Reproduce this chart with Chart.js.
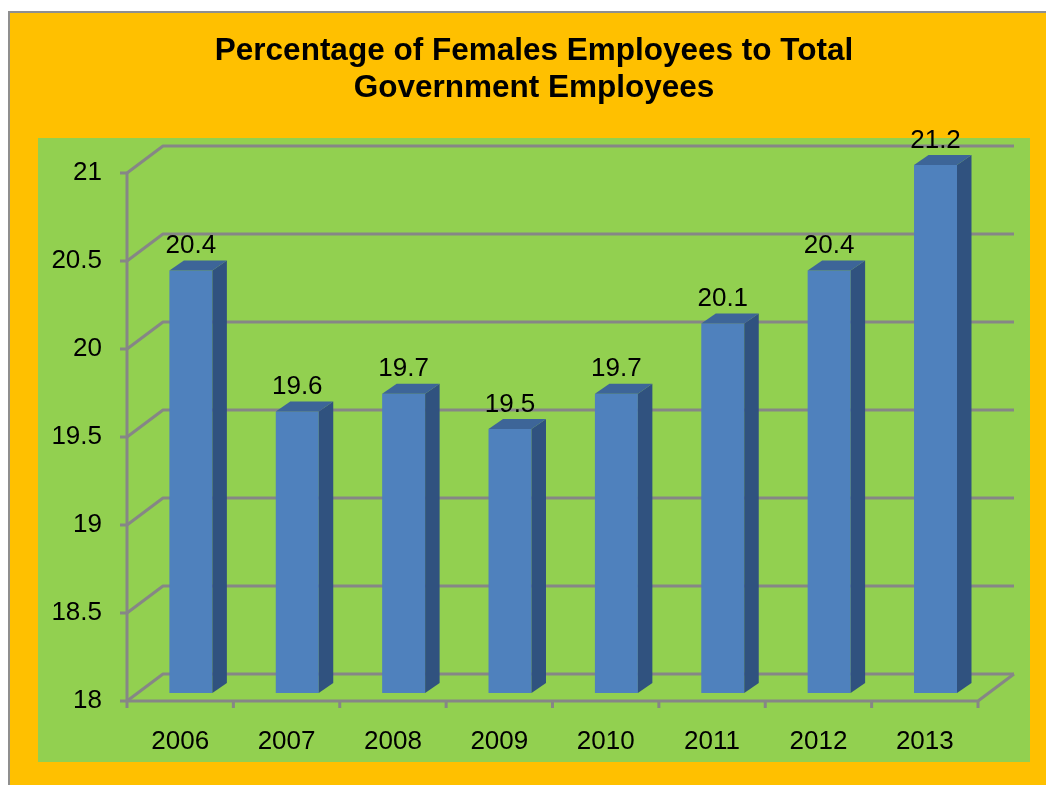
<!DOCTYPE html>
<html>
<head>
<meta charset="utf-8">
<script src="https://cdn.jsdelivr.net/npm/chart.js@4.4.1/dist/chart.umd.min.js"></script>
<style>
  html, body { margin: 0; padding: 0; background: #fff; }
  #wrap { width: 1046px; height: 785px; }
</style>
</head>
<body>
<div id="wrap"><canvas id="chart" width="1046" height="785"></canvas></div>
<script>
// Share of women among all government employees, by year (%)
const years = ['2006', '2007', '2008', '2009', '2010', '2011', '2012', '2013'];
const femaleShare = [20.4, 19.6, 19.7, 19.5, 19.7, 20.1, 20.4, 21.2];
const axisMin = 18;
const axisMax = 21;
const axisStep = 0.5;
const titleLines = ['Percentage of Females Employees to Total', 'Government Employees'];

// Pseudo-3D geometry: depth of the walls, where the bar fronts sit, and bar thickness
const WALL = { dx: 36, dy: -27 };
const BAR_FRONT = { dx: 10.7, dy: -8 };
const BAR_DEPTH = { dx: 14.5, dy: -10 };

const COLORS = {
  frame: '#FFC000',
  border: '#8F8F8F',
  plot: '#92D050',
  grid: '#868686',
  barFront: '#4F81BD',
  barSide: '#30527F',
  barTop: '#3D6598'
};

Chart.defaults.font.family = "'Liberation Sans', Arial, sans-serif";
Chart.defaults.color = '#000';

function fillPoly(ctx, pts, color) {
  ctx.beginPath();
  ctx.moveTo(pts[0][0], pts[0][1]);
  for (let i = 1; i < pts.length; i++) ctx.lineTo(pts[i][0], pts[i][1]);
  ctx.closePath();
  ctx.fillStyle = color;
  ctx.fill();
}

// Orange frame and green plot panel; title centred over the plot panel
const backdrop = {
  id: 'backdrop',
  afterLayout(chart) {
    const t = chart.titleBlock;
    if (t) {
      t.left = chart.chartArea.left - 37;
      t.width = t.right - t.left;
    }
  },
  beforeDraw(chart) {
    const { ctx, width, height, chartArea: a } = chart;
    ctx.save();
    ctx.fillStyle = '#fff';
    ctx.fillRect(0, 0, width, height);
    ctx.fillStyle = COLORS.border;
    ctx.fillRect(8, 11, width - 8, height - 11);
    ctx.fillStyle = COLORS.frame;
    ctx.fillRect(10, 13, width - 10, height - 13);
    ctx.fillStyle = COLORS.plot;
    ctx.fillRect(a.left - 89, a.top - 35, (a.right - a.left) + 141, (a.bottom - a.top) + 96);
    ctx.restore();
  }
};

// Side wall, back wall and floor lines, axis lines and tick marks
const walls = {
  id: 'walls',
  beforeDatasetsDraw(chart) {
    const { ctx, chartArea: a, scales: { x, y } } = chart;
    ctx.save();
    ctx.strokeStyle = COLORS.grid;
    ctx.lineWidth = 3;
    ctx.lineJoin = 'round';
    ctx.lineCap = 'butt';
    for (let v = axisMin; v <= axisMax + 1e-9; v += axisStep) {
      const py = y.getPixelForValue(v);
      ctx.beginPath();
      ctx.moveTo(a.left, py);
      ctx.lineTo(a.left + WALL.dx, py + WALL.dy);
      ctx.lineTo(a.right + WALL.dx, py + WALL.dy);
      ctx.stroke();
      ctx.beginPath();
      ctx.moveTo(a.left - 7, py);
      ctx.lineTo(a.left, py);
      ctx.stroke();
    }
    ctx.beginPath();
    ctx.moveTo(a.left, a.top);
    ctx.lineTo(a.left, a.bottom);
    ctx.lineTo(a.right, a.bottom);
    ctx.lineTo(a.right + WALL.dx, a.bottom + WALL.dy);
    ctx.stroke();
    for (let i = 0; i <= years.length; i++) {
      const px = x.getPixelForValue(i - 0.5);
      ctx.beginPath();
      ctx.moveTo(px, a.bottom);
      ctx.lineTo(px, a.bottom + 7);
      ctx.stroke();
    }
    ctx.restore();
  }
};

// Shift the bar fronts into depth, then add the side and top faces
const bars3d = {
  id: 'bars3d',
  beforeDatasetDraw(chart) {
    chart.ctx.save();
    chart.ctx.translate(BAR_FRONT.dx, BAR_FRONT.dy);
  },
  afterDatasetDraw(chart, args) {
    const { ctx, chartArea: a } = chart;
    ctx.restore();
    ctx.save();
    args.meta.data.forEach((bar) => {
      const { x, y, base, width } = bar.getProps(['x', 'y', 'base', 'width'], true);
      const top = Math.max(y, a.top) + BAR_FRONT.dy;
      const bottom = Math.min(base, a.bottom) + BAR_FRONT.dy;
      const l = x - width / 2 + BAR_FRONT.dx;
      const r = x + width / 2 + BAR_FRONT.dx;
      fillPoly(ctx, [[r, top], [r + BAR_DEPTH.dx, top + BAR_DEPTH.dy],
        [r + BAR_DEPTH.dx, bottom + BAR_DEPTH.dy], [r, bottom]], COLORS.barSide);
      fillPoly(ctx, [[l, top], [r, top], [r + BAR_DEPTH.dx, top + BAR_DEPTH.dy],
        [l + BAR_DEPTH.dx, top + BAR_DEPTH.dy]], COLORS.barTop);
    });
    ctx.restore();
  }
};

// Value labels above each bar
const valueLabels = {
  id: 'valueLabels',
  afterDatasetsDraw(chart) {
    const { ctx, chartArea: a } = chart;
    const meta = chart.getDatasetMeta(0);
    const values = chart.data.datasets[0].data;
    ctx.save();
    ctx.font = "26px 'Liberation Sans', Arial, sans-serif";
    ctx.fillStyle = '#000';
    ctx.textAlign = 'center';
    ctx.textBaseline = 'alphabetic';
    meta.data.forEach((bar, i) => {
      const { x, y } = bar.getProps(['x', 'y'], true);
      const top = Math.max(y, a.top) + BAR_FRONT.dy;
      ctx.fillText(String(values[i]), x + BAR_FRONT.dx, top - 17.5);
    });
    ctx.restore();
  }
};

new Chart(document.getElementById('chart'), {
  type: 'bar',
  data: {
    labels: years,
    datasets: [{
      data: femaleShare,
      backgroundColor: COLORS.barFront,
      borderWidth: 0,
      barPercentage: 0.404,
      categoryPercentage: 1,
      clip: 0
    }]
  },
  options: {
    responsive: false,
    animation: false,
    devicePixelRatio: 1,
    layout: { padding: { left: 0, right: 68, top: 0, bottom: 0 } },
    plugins: {
      legend: { display: false },
      tooltip: { enabled: false },
      title: {
        display: true,
        text: titleLines,
        color: '#000',
        font: { size: 31.5, weight: 'bold', lineHeight: '37px' },
        padding: { top: 33, bottom: 66 }
      }
    },
    scales: {
      x: {
        type: 'category',
        offset: true,
        grid: { display: false, drawTicks: false },
        border: { display: false },
        ticks: { font: { size: 26 }, color: '#000', padding: 25, maxRotation: 0 },
        afterFit(scale) { scale.height = 84; }
      },
      y: {
        min: axisMin,
        max: axisMax,
        grid: { display: false, drawTicks: false },
        border: { display: false },
        ticks: {
          stepSize: axisStep,
          font: { size: 26 },
          color: '#000',
          padding: 25,
          callback: (value) => String(Number(value.toFixed(1)))
        },
        afterFit(scale) { scale.width = 127; }
      }
    }
  },
  plugins: [backdrop, walls, bars3d, valueLabels]
});
</script>
</body>
</html>
